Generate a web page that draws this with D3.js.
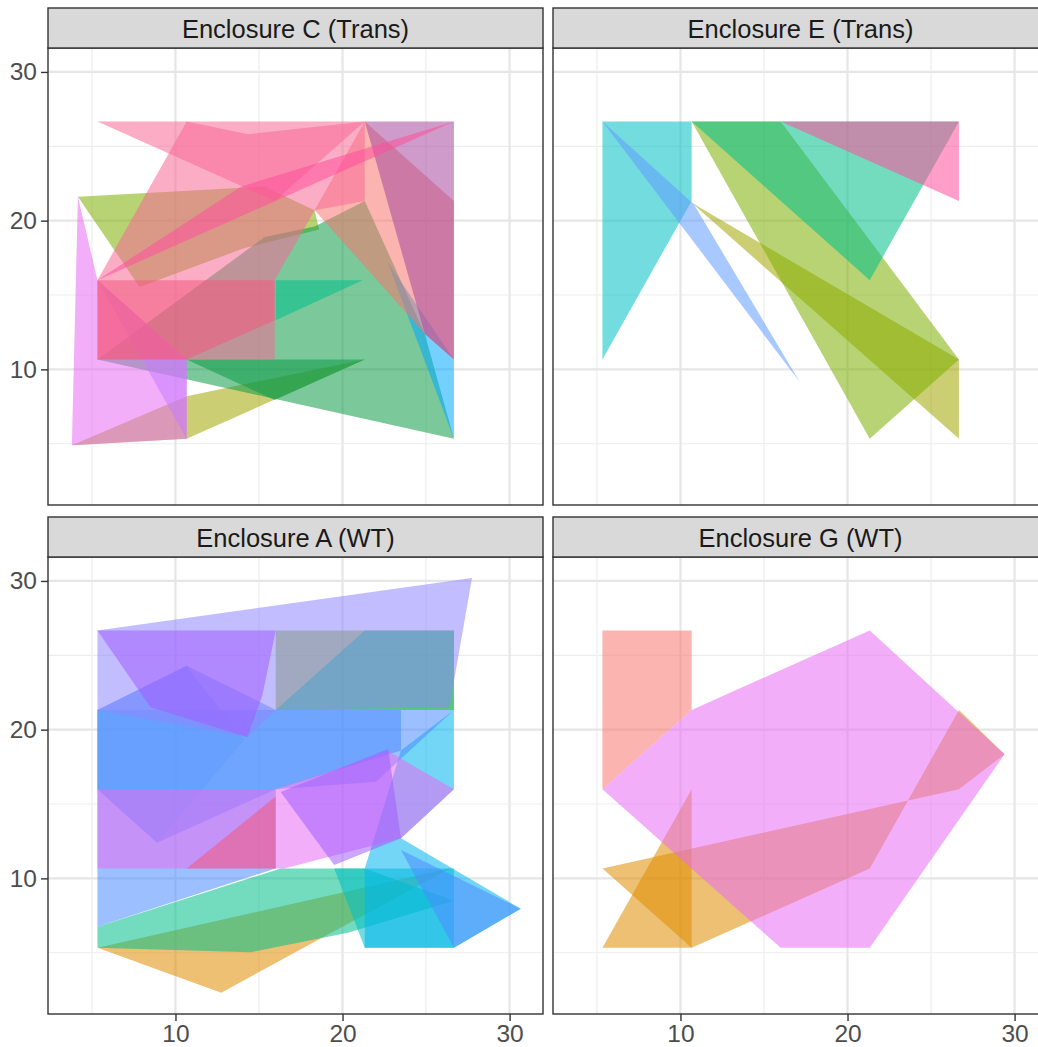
<!DOCTYPE html>
<html>
<head>
<meta charset="utf-8">
<script src="https://cdn.jsdelivr.net/npm/d3@7"></script>
<style>
  body { margin: 0; background: #ffffff; }
  svg text { font-family: "Liberation Sans", Arial, Helvetica, sans-serif; }
</style>
</head>
<body>
<svg id="chart" width="1038" height="1047"></svg>
<script>
// ---------------- data ----------------
const panelTitles = ["Enclosure C (Trans)", "Enclosure E (Trans)", "Enclosure A (WT)", "Enclosure G (WT)"];
const xTicks = [10, 20, 30];
const yTicks = [10, 20, 30];
const xMinor = [5, 15, 25];
const yMinor = [5, 15, 25];

// group -> fill colour
const groupColors = {
  salmon: "#F8766D", orange: "#DE8C00", olive: "#A3A500", lime: "#7CAE00",
  green: "#0E9A48", teal: "#00C08B", cyan: "#00BFC4", sky: "#00B4F0",
  azure: "#00A9FF", blue: "#619CFF", deepblue: "#4A8CFF", violet: "#8F86FF",
  purple: "#C77CFF", deeppurple: "#A35CFF", magenta: "#E76BF3", pink: "#F76A98",
  hotpink: "#FF4F9A", red: "#F2587E", mauve: "#A8489F"
};

// polygons per enclosure: [group, [[x,y], ...]]  (drawn in this order)
const enclosureC = [
  ["lime",    [[4.16,21.6],[15.3,22.3],[18.33,20.7],[18.6,19.4],[14.04,18.12],[7.85,15.54]]],
  ["olive",   [[3.8,4.9],[10.67,8.2],[21.33,10.67],[10.67,5.33]]],
  ["green",   [[15.34,18.9],[18.33,19.6],[21.33,21.33],[24.92,12.4],[26.67,5.33],[5.33,10.67]]],
  ["green",   [[10.67,10.67],[21.33,10.67],[15.94,7.94]]],
  ["teal",    [[16,16],[21.2,16],[16,13.3]]],
  ["azure",   [[22.7,17.2],[26.67,10.67],[26.67,5.33]]],
  ["salmon",  [[21.33,26.67],[26.67,21.33],[26.67,10.67],[24.92,12.4],[18.33,20.7]]],
  ["mauve",   [[21.33,26.67],[26.67,26.67],[26.67,10.67],[24.92,12.4]]],
  ["magenta", [[4.16,21.6],[5.33,16],[10.67,10.67],[10.67,5.33],[3.8,4.9]]],
  ["purple",  [[5.33,16],[10.67,10.67],[10.67,5.33]]],
  ["pink",    [[5.33,26.67],[21.33,26.67],[15.94,21.33]]],
  ["pink",    [[10.67,26.67],[14.34,25.81],[21.33,26.67],[21.33,21.33],[18.33,20.7],[15.94,16],[15.94,10.67],[5.33,10.67],[5.33,16]]],
  ["hotpink", [[26.67,26.67],[13.94,22.3],[5.33,16]]],
  ["red",     [[5.33,16],[15.94,16],[15.94,13.3],[10.67,10.67],[5.33,10.67]]]
];
const enclosureE = [
  ["olive",   [[10.67,21.2],[26.67,10.67],[26.67,5.33]]],
  ["lime",    [[10.67,26.67],[16,26.67],[26.67,10.67],[21.33,5.33]]],
  ["teal",    [[10.67,26.67],[26.67,26.67],[21.33,16]]],
  ["cyan",    [[5.33,26.67],[10.67,26.67],[10.67,21.33],[5.33,10.67]]],
  ["blue",    [[5.33,26.67],[10.8,21.1],[17.14,9.15]]],
  ["hotpink", [[16,26.67],[26.67,26.67],[26.67,21.33]]]
];
const enclosureA = [
  ["orange",  [[5.33,5.33],[12.74,2.31],[18.33,5.74],[26.5,10.7]]],
  ["teal",    [[5.33,6.75],[16.3,10.67],[21.33,10.67],[26.67,8.5],[20.33,6.35],[14.5,5.03],[5.33,5.33]]],
  ["lime",    [[16,26.67],[26.67,26.67],[26.67,21.33],[16,21.33]]],
  ["teal",    [[16,21.33],[21.33,26.67],[26.67,26.67],[26.67,21.33]]],
  ["cyan",    [[19.5,10.67],[26.67,10.67],[26.67,5.33],[21.33,5.33]]],
  ["sky",     [[23.5,18.6],[26.67,21.33],[26.67,16],[23.5,12.7],[30.67,7.96],[26.67,5.33],[21.33,5.33],[21.33,10.67]]],
  ["deepblue",[[5.33,21.33],[10.67,24.3],[16,21.33],[26.67,21.33],[22,16.5],[16,16],[16,10.67],[5.33,6.75]]],
  ["deepblue",[[5.33,21.33],[23.5,21.33],[23.5,18.6],[16,16],[8.9,12.4],[5.33,16]]],
  ["blue",    [[5.33,21.33],[10.67,24.3],[14.1,19.3],[8.9,12.4],[5.33,16]]],
  ["deepblue",[[23.5,11.9],[30.67,7.96],[26.67,5.33]]],
  ["violet",  [[5.33,26.67],[27.75,30.2],[26.4,21.5],[16,21.33],[14.3,19.5],[5.33,21.33]]],
  ["deeppurple", [[5.33,26.67],[16,26.67],[15.2,22.3],[14.3,19.5],[8.5,21.5]]],
  ["magenta", [[5.33,16],[16,16],[22.8,18.5],[26.67,16],[23.5,12.7],[16.5,10.67],[5.33,10.67]]],
  ["deeppurple", [[16.3,15.8],[22.73,18.7],[23.5,12.7],[19.5,10.9]]],
  ["red",     [[10.67,10.67],[16,15.5],[16,10.67]]]
];
const enclosureG = [
  ["salmon",  [[5.33,26.67],[10.67,26.67],[10.67,21.33],[5.33,16]]],
  ["orange",  [[5.33,5.33],[10.67,16],[10.67,5.33]]],
  ["orange",  [[5.33,10.67],[10.67,5.33],[21.33,10.67],[26.67,21.33],[29.4,18.35],[26.67,16]]],
  ["magenta", [[5.33,16],[10.67,21.33],[21.33,26.67],[29.4,18.35],[21.33,5.33],[16,5.33]]]
];
const panelData = [enclosureC, enclosureE, enclosureA, enclosureG];

// ---------------- layout ----------------
const W = 1038, H = 1047;
const panelW = 495, panelH = 457, stripH = 40;
const colX = [48, 553];
const rowY = [48, 557];
const fontSize = 24.5;
const fillAlpha = 0.55;

const svg = d3.select("#chart");
svg.append("rect").attr("width", W).attr("height", H).attr("fill", "#ffffff");

const x = d3.scaleLinear().domain([2.37, 32.0]).range([0, panelW]);
const y = d3.scaleLinear().domain([0.88, 31.61]).range([panelH, 0]);
const line = d3.line().x(d => x(d[0])).y(d => y(d[1])).curve(d3.curveLinearClosed);

panelTitles.forEach((title, i) => {
  const col = i % 2, row = Math.floor(i / 2);
  const g = svg.append("g").attr("transform", `translate(${colX[col]},${rowY[row]})`);
  const clipId = "clip" + i;
  g.append("clipPath").attr("id", clipId).append("rect").attr("width", panelW).attr("height", panelH);

  g.append("rect").attr("width", panelW).attr("height", panelH).attr("fill", "#ffffff");

  const grid = g.append("g").attr("clip-path", `url(#${clipId})`);
  grid.selectAll(".vn").data(xMinor).join("line").attr("class", "vn")
    .attr("x1", d => x(d)).attr("x2", d => x(d)).attr("y1", 0).attr("y2", panelH)
    .attr("stroke", "#EDEDED").attr("stroke-width", 1.2);
  grid.selectAll(".hn").data(yMinor).join("line").attr("class", "hn")
    .attr("y1", d => y(d)).attr("y2", d => y(d)).attr("x1", 0).attr("x2", panelW)
    .attr("stroke", "#EDEDED").attr("stroke-width", 1.2);
  grid.selectAll(".vm").data(xTicks).join("line").attr("class", "vm")
    .attr("x1", d => x(d)).attr("x2", d => x(d)).attr("y1", 0).attr("y2", panelH)
    .attr("stroke", "#E6E6E6").attr("stroke-width", 2.2);
  grid.selectAll(".hm").data(yTicks).join("line").attr("class", "hm")
    .attr("y1", d => y(d)).attr("y2", d => y(d)).attr("x1", 0).attr("x2", panelW)
    .attr("stroke", "#E6E6E6").attr("stroke-width", 2.2);

  const polys = g.append("g").attr("clip-path", `url(#${clipId})`);
  polys.selectAll("path").data(panelData[i]).join("path")
    .attr("d", d => line(d[1]))
    .attr("fill", d => groupColors[d[0]])
    .attr("fill-opacity", fillAlpha)
    .attr("stroke", "none");

  g.append("rect").attr("width", panelW).attr("height", panelH)
    .attr("fill", "none").attr("stroke", "#333333").attr("stroke-width", 1.4);

  // strip
  const s = g.append("g").attr("transform", `translate(0,${-stripH})`);
  s.append("rect").attr("width", panelW).attr("height", stripH)
    .attr("fill", "#D9D9D9").attr("stroke", "#333333").attr("stroke-width", 1.4);
  s.append("text").attr("x", panelW / 2).attr("y", 29.5)
    .attr("text-anchor", "middle").attr("font-size", 25.5).attr("fill", "#1A1A1A")
    .text(title);

  // axes
  if (col === 0) {
    const ax = g.append("g").call(d3.axisLeft(y).tickValues(yTicks).tickSize(7).tickPadding(4));
    ax.select(".domain").remove();
    ax.selectAll("line").attr("stroke", "#333333").attr("stroke-width", 1.4);
    ax.selectAll("text").attr("fill", "#4D4D4D").attr("font-size", fontSize)
      .attr("font-family", "Liberation Sans, Arial, sans-serif");
  }
  if (row === 1) {
    const ax = g.append("g").attr("transform", `translate(0,${panelH})`)
      .call(d3.axisBottom(x).tickValues(xTicks).tickSize(7).tickPadding(4));
    ax.select(".domain").remove();
    ax.selectAll("line").attr("stroke", "#333333").attr("stroke-width", 1.4);
    ax.selectAll("text").attr("fill", "#4D4D4D").attr("font-size", fontSize)
      .attr("font-family", "Liberation Sans, Arial, sans-serif");
  }
});
</script>
</body>
</html>
